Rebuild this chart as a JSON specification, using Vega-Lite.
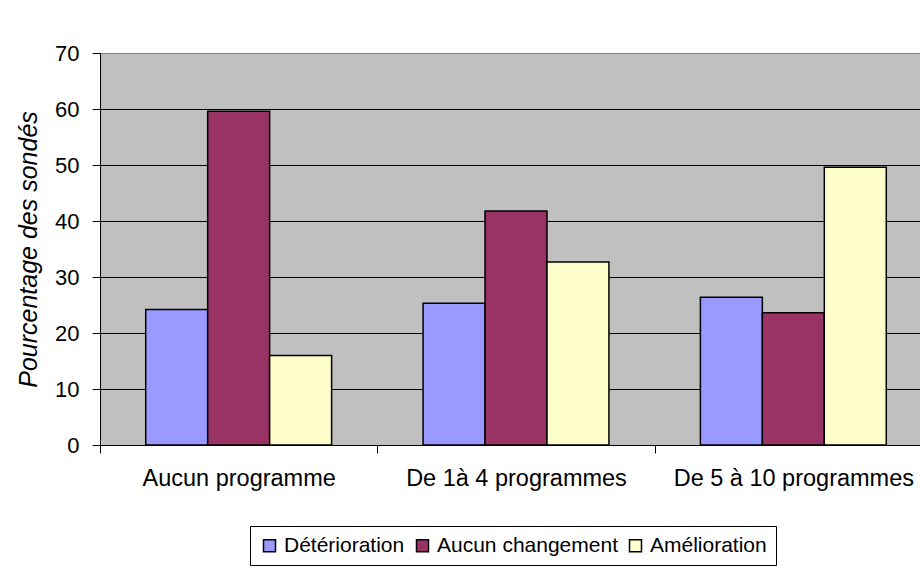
{
  "$schema": "https://vega.github.io/schema/vega-lite/v6.json",
  "autosize": {"type": "none"},
  "padding": {"left": 100, "top": 53, "right": 0, "bottom": 125},
  "width": 832,
  "height": 392,
  "background": "white",
  "config": {
    "font": "Liberation Sans",
    "view": {"fill": "#C0C0C0", "stroke": "#808080", "strokeWidth": 1}
  },
  "data": {
    "values": [
      {"cat": "Aucun programme", "serie": "Détérioration", "pct": 24.2},
      {"cat": "Aucun programme", "serie": "Aucun changement", "pct": 59.6},
      {"cat": "Aucun programme", "serie": "Amélioration", "pct": 16.0},
      {"cat": "De 1à 4 programmes", "serie": "Détérioration", "pct": 25.3},
      {"cat": "De 1à 4 programmes", "serie": "Aucun changement", "pct": 41.8},
      {"cat": "De 1à 4 programmes", "serie": "Amélioration", "pct": 32.7},
      {"cat": "De 5 à 10 programmes", "serie": "Détérioration", "pct": 26.4},
      {"cat": "De 5 à 10 programmes", "serie": "Aucun changement", "pct": 23.6},
      {"cat": "De 5 à 10 programmes", "serie": "Amélioration", "pct": 49.6}
    ]
  },
  "mark": {"type": "bar", "stroke": "black", "strokeWidth": 1.5},
  "encoding": {
    "x": {
      "field": "cat",
      "type": "nominal",
      "sort": null,
      "scale": {"paddingInner": 0, "paddingOuter": 0},
      "axis": {
        "title": null,
        "labelAngle": 0,
        "labelFontSize": 23.5,
        "labelColor": "black",
        "labelPadding": 13,
        "labelLimit": 400,
        "tickBand": "extent",
        "tickSize": 8,
        "tickColor": "black",
        "domainColor": "black"
      }
    },
    "xOffset": {
      "field": "serie",
      "type": "nominal",
      "sort": ["Détérioration", "Aucun changement", "Amélioration"],
      "scale": {"paddingInner": 0, "paddingOuter": 0.738}
    },
    "y": {
      "field": "pct",
      "type": "quantitative",
      "scale": {"domain": [0, 70], "nice": false},
      "axis": {
        "title": "Pourcentage des sondés",
        "titleFontStyle": "italic",
        "titleFontWeight": "normal",
        "titleFontSize": 25,
        "titleColor": "black",
        "titlePadding": 13,
        "values": [0, 10, 20, 30, 40, 50, 60, 70],
        "labelFontSize": 22,
        "labelColor": "black",
        "labelPadding": 13,
        "tickSize": 8,
        "tickColor": "black",
        "domainColor": "black",
        "grid": true,
        "gridColor": {"condition": {"test": "datum.value === 70", "value": "#808080"}, "value": "black"},
        "gridOpacity": 1,
        "gridWidth": 1
      }
    },
    "color": {
      "field": "serie",
      "type": "nominal",
      "sort": ["Détérioration", "Aucun changement", "Amélioration"],
      "scale": {
        "domain": ["Détérioration", "Aucun changement", "Amélioration"],
        "range": ["#9999FF", "#993366", "#FFFFCC"]
      },
      "legend": {
        "title": null,
        "orient": "none",
        "legendX": 150,
        "legendY": 473,
        "direction": "horizontal",
        "columns": 3,
        "symbolType": "square",
        "symbolSize": 144,
        "symbolStrokeColor": "black",
        "symbolStrokeWidth": 1.5,
        "labelFontSize": 21,
        "labelColor": "black",
        "labelOffset": 4,
        "columnPadding": 7,
        "padding": 9,
        "strokeColor": "black",
        "fillColor": "white",
        "labelLimit": 300
      }
    }
  }
}
